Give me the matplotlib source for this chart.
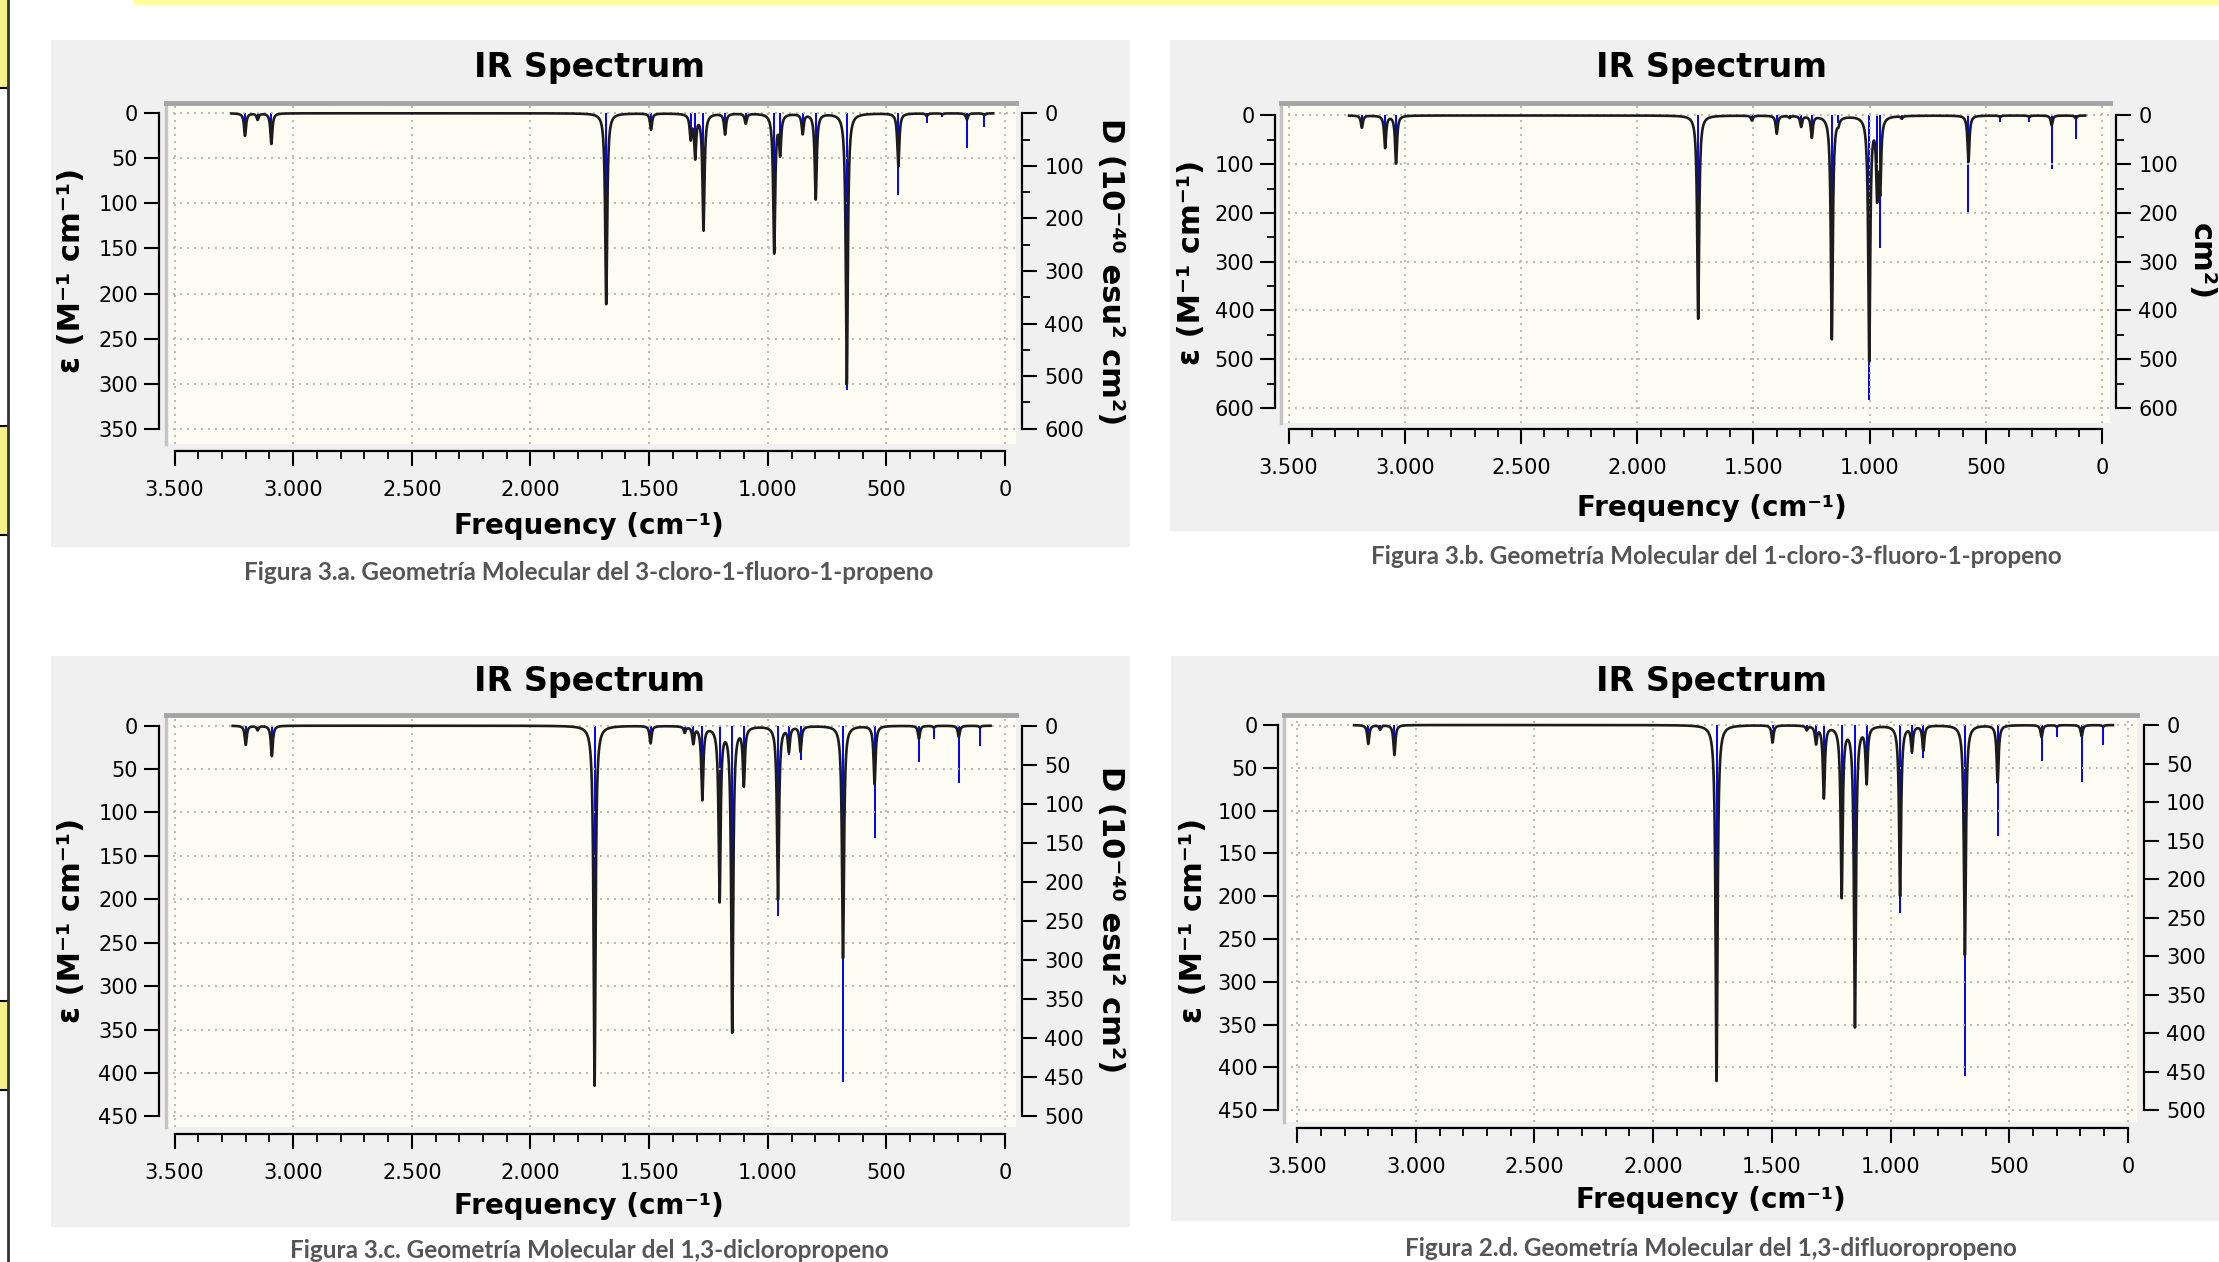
import matplotlib
matplotlib.use("Agg")
import matplotlib.pyplot as plt
import numpy as np
from matplotlib.patches import Rectangle
from matplotlib.lines import Line2D
from matplotlib.ticker import MultipleLocator, FuncFormatter

W, H = 2219, 1262

# ---- data (frequency in cm-1) ----
# peak heights of the broadened curve (left axis, epsilon) and stick heights (right axis, D)

# 3.a  3-cloro-1-fluoro-1-propeno
freq_a = [3203, 3150, 3092, 1681, 1492, 1325, 1306, 1271, 1180, 1093,
          973, 948, 853, 798, 667, 450, 330, 264, 161, 87]
eps_a = [25, 7, 34, 212, 18, 26, 47, 129, 23, 11,
         154, 42, 22, 95, 301, 59, 3, 1, 7, 2]
stick_a = [30, 8, 40, 340, 28, 45, 80, 215, 38, 18,
           260, 75, 36, 160, 526, 156, 19, 8, 67, 27]

# 3.b  1-cloro-3-fluoro-1-propeno
freq_b = [3185, 3085, 3038, 1738, 1507, 1400, 1345, 1295, 1249, 1163,
          1135, 1002, 968, 955, 862, 575, 439, 313, 217, 113]
eps_b = [25, 66, 98, 417, 10, 37, 4, 22, 44, 458,
         10, 500, 150, 140, 5, 95, 3, 3, 20, 6]
stick_b = [22, 60, 90, 380, 12, 37, 8, 20, 40, 420,
           15, 583, 140, 271, 10, 200, 14, 14, 110, 49]

# 3.c  1,3-dicloropropeno
freq_c = [3200, 3150, 3090, 1730, 1494, 1350, 1314, 1276, 1203, 1150,
          1101, 957, 911, 862, 683, 550, 363, 300, 195, 106]
eps_c = [22, 5, 35, 415, 20, 7, 19, 84, 200, 351,
         66, 200, 28, 29, 268, 67, 15, 2, 13, 2]
stick_c = [20, 4, 33, 422, 20, 7, 20, 89, 211, 367,
           69, 244, 37, 44, 456, 144, 47, 17, 74, 26]

# 2.d  1,3-difluoropropeno
freq_d = [3200, 3150, 3090, 1733, 1497, 1353, 1314, 1281, 1206, 1150,
          1101, 960, 910, 862, 687, 549, 364, 300, 195, 104]
eps_d = [22, 5, 35, 416, 20, 5, 20, 84, 199, 351,
         65, 199, 29, 29, 269, 67, 14, 2, 13, 2]
stick_d = [20, 4, 33, 422, 20, 6, 21, 89, 211, 367,
           69, 244, 37, 43, 456, 144, 47, 16, 74, 26]

captions = [
    "Figura 3.a. Geometría Molecular del 3-cloro-1-fluoro-1-propeno",
    "Figura 3.b. Geometría Molecular del 1-cloro-3-fluoro-1-propeno",
    "Figura 3.c. Geometría Molecular del 1,3-dicloropropeno",
    "Figura 2.d. Geometría Molecular del 1,3-difluoropropeno",
]

title = "IR Spectrum"
xlabel = "Frequency (cm⁻¹)"
ylabel_left = "ε (M⁻¹ cm⁻¹)"
ylabel_right = "D (10⁻⁴⁰ esu² cm²)"

BEIGE = "#fdfdf3"
PANEL = "#f0f0f0"

fig = plt.figure(figsize=(W / 100, H / 100), dpi=100)
fig.patch.set_facecolor("white")


def fx(x):
    return x / W


def fy(y):
    return 1 - y / H


def thousands(v, pos):
    return f"{int(round(v)):,}".replace(",", ".")


def draw_panel(p, freqs, eps, sticks, caption):
    # grey frame behind the chart
    x0, y0, x1, y1 = p["bg"]
    fig.add_artist(Rectangle((fx(x0), fy(y1)), (x1 - x0) / W, (y1 - y0) / H,
                             transform=fig.transFigure, color=PANEL, zorder=-2))

    a0, b0, a1, b1 = p["plot"]
    ax = fig.add_axes([fx(a0), fy(b1), (a1 - a0) / W, (b1 - b0) / H])
    ax2 = ax.twinx()
    ax.set_zorder(1)
    ax2.set_zorder(0)
    ax.patch.set_visible(False)
    ax2.patch.set_visible(True)
    ax2.patch.set_facecolor(BEIGE)

    ax.set_xlim(*p["xlim"])
    ax.set_ylim(*p["ylim"])
    k = p["rmax"] / p["lmax"]
    ax2.set_ylim(p["ylim"][0] * k, p["ylim"][1] * k)

    # sticks and broadened curve
    ax2.vlines(freqs, 0, sticks, color="#0000ff", lw=1.4)
    x = np.linspace(p["span"][0], p["span"][1], 9000)
    hw = 5.0
    f = np.asarray(freqs, float)[:, None]
    curve = (np.asarray(eps, float)[:, None] * hw ** 2 / ((x - f) ** 2 + hw ** 2)).sum(axis=0)
    ax.plot(x, curve, color="#1c1c1c", lw=1.9, solid_joinstyle="round")

    # grid
    ax.xaxis.set_major_locator(MultipleLocator(500))
    ax.xaxis.set_minor_locator(MultipleLocator(100))
    ax.yaxis.set_major_locator(MultipleLocator(p["lstep"]))
    if p["lminor"]:
        ax.yaxis.set_minor_locator(MultipleLocator(p["lminor"]))
    ax2.yaxis.set_major_locator(MultipleLocator(p["rstep"]))
    if p["rminor"]:
        ax2.yaxis.set_minor_locator(MultipleLocator(p["rminor"]))
    ax.grid(True, which="major", color="#b8b8b8", linestyle=(0, (1, 2.6)), lw=1.4)
    ax.set_axisbelow(True)

    # spines
    for s in ax2.spines.values():
        s.set_visible(False)
    ax.spines["right"].set_visible(False)
    ax.spines["top"].set_color("#a4a4a4")
    ax.spines["top"].set_linewidth(3.5)
    ax.spines["left"].set_position(("outward", p["lout"]))
    ax.spines["left"].set_bounds(0, p["lmax"])
    ax.spines["left"].set_linewidth(1.6)
    ax.spines["bottom"].set_position(("outward", p["bout"]))
    ax.spines["bottom"].set_bounds(0, 3500)
    ax.spines["bottom"].set_linewidth(1.6)
    ax2.spines["right"].set_visible(True)
    ax2.spines["right"].set_position(("outward", p["rout"]))
    ax2.spines["right"].set_bounds(0, p["rmax"])
    ax2.spines["right"].set_linewidth(1.6)
    ax.add_line(Line2D([0, 0], [0, 1], transform=ax.transAxes, color="#c4c4c4",
                       lw=2.5, clip_on=False))

    ax.xaxis.set_major_formatter(FuncFormatter(thousands))
    ax.tick_params(axis="x", which="major", length=11, width=1.5, pad=10, labelsize=15)
    ax.tick_params(axis="x", which="minor", length=5.5, width=1.3)
    ax.tick_params(axis="y", which="major", length=11, width=1.5, pad=4, labelsize=15)
    ax.tick_params(axis="y", which="minor", length=6, width=1.3)
    ax2.tick_params(axis="y", which="major", length=11, width=1.5, pad=5, labelsize=15)
    ax2.tick_params(axis="y", which="minor", length=6, width=1.3)

    # texts
    tx, ty = p["title"]
    fig.text(fx(tx), fy(ty), title, ha="center", va="center", fontsize=24,
             fontweight="bold")
    lx, ly = p["xlab"]
    fig.text(fx(lx), fy(ly), xlabel, ha="center", va="center", fontsize=20,
             fontweight="bold")
    yx, yy = p["ylab"]
    fig.text(fx(yx), fy(yy), ylabel_left, ha="center", va="center", fontsize=22,
             fontweight="bold", rotation=90)
    rx, ry = p["rlab"]
    rtext = p.get("rtext", ylabel_right)
    fig.text(fx(rx), fy(ry), rtext, ha="center", va=p.get("rva", "center"),
             fontsize=22, fontweight="bold", rotation=-90,
             rotation_mode="anchor" if "rva" in p else "default")
    cx, cy = p["cap"]
    fig.text(fx(cx), fy(cy), caption, ha="center", va="center", fontsize=17.5,
             fontweight="bold", family="Lato", color="#555555")


panels = [
    dict(bg=(51, 40, 1129, 546), plot=(166, 103, 1016, 444), xlim=(3536, -46),
         ylim=(367, -11.4), lmax=350, lstep=50, lminor=None, rmax=600, rstep=100,
         rminor=50, lout=5, rout=4.5, bout=5, span=(3260, 50), title=(589, 68),
         xlab=(589, 526), ylab=(72, 270), rlab=(1110, 272), cap=(589, 572)),
    dict(bg=(1170, 40, 2219, 530), plot=(1281, 103, 2110, 423), xlim=(3533, -34),
         ylim=(630.8, -25.6), lmax=600, lstep=100, lminor=50, rmax=600, rstep=100,
         rminor=50, lout=4, rout=4.5, bout=4.5, span=(3240, 73), title=(1712, 68),
         xlab=(1712, 508), ylab=(1191, 262), rlab=(2201, 262), rtext="cm²)",
         cap=(1716, 556)),
    dict(bg=(51, 656, 1129, 1226), plot=(166, 715, 1016, 1127), xlim=(3536, -46),
         ylim=(462.3, -12.3), lmax=450, lstep=50, lminor=None, rmax=500, rstep=50,
         rminor=None, lout=5, rout=4.5, bout=5, span=(3255, 61), title=(589, 682),
         xlab=(589, 1206), ylab=(72, 920), rlab=(1110, 920), cap=(589, 1251)),
    dict(bg=(1171, 656, 2219, 1220), plot=(1284, 715, 2137, 1122), xlim=(3555, -38),
         ylim=(463.8, -11.7), lmax=450, lstep=50, lminor=None, rmax=500, rstep=50,
         rminor=None, lout=4, rout=5, bout=4.5, span=(3260, 63), title=(1711, 682),
         xlab=(1711, 1200), ylab=(1194, 920), rlab=(2222, 918), rva="baseline",
         cap=(1711, 1248)),
]

series = [(freq_a, eps_a, stick_a), (freq_b, eps_b, stick_b),
          (freq_c, eps_c, stick_c), (freq_d, eps_d, stick_d)]

for p, (fr, ep, st), cap in zip(panels, series, captions):
    draw_panel(p, fr, ep, st, cap)

# page decorations around the figures (document table borders)
fig.add_artist(Rectangle((fx(134), fy(4)), (W - 134) / W, 4 / H,
                         transform=fig.transFigure, color="#ffff99", zorder=-1))
for y0, y1 in [(0, 88), (426, 535), (1001, 1090)]:
    fig.add_artist(Rectangle((0, fy(y1)), 7 / W, (y1 - y0) / H,
                             transform=fig.transFigure, color="#f5f08a", zorder=-1))
for y in [88, 426, 535, 1001, 1090]:
    fig.add_artist(Line2D([0, fx(7)], [fy(y), fy(y)], transform=fig.transFigure,
                          color="black", lw=1.5))
fig.add_artist(Line2D([fx(8), fx(8)], [0, 1], transform=fig.transFigure,
                      color="#333333", lw=2))

fig.savefig("out.png", dpi=100)
